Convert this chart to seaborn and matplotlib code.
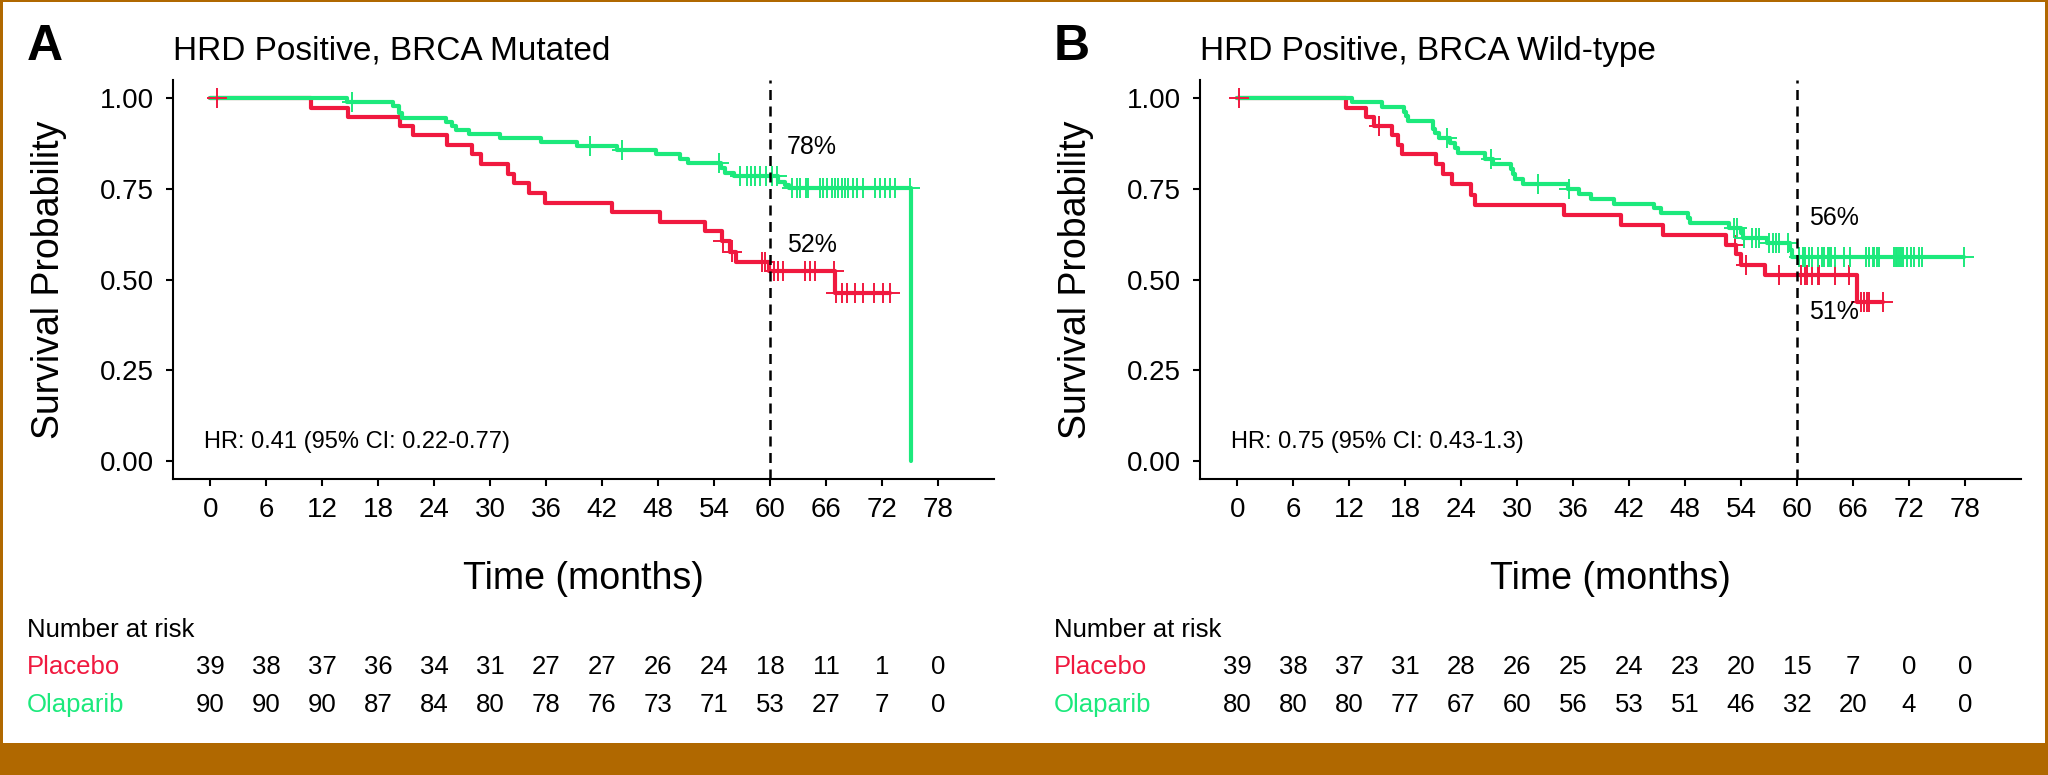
import matplotlib

matplotlib.use("Agg")
import matplotlib.pyplot as plt
import matplotlib.transforms as mtransforms
import numpy as np
import pandas as pd
import seaborn as sns
from matplotlib.patches import Rectangle

PLACEBO_COLOR = "#F0193F"
OLAPARIB_COLOR = "#1CE97C"
FRAME_COLOR = "#B06800"

TIME_TICKS = list(range(0, 79, 6))
SURV_TICKS = [0.0, 0.25, 0.5, 0.75, 1.0]

# Panel A: HRD positive, BRCA mutated
A_PBO_T = [10.8, 14.8, 20.3, 21.7, 25.4, 28.0, 29.0, 31.9, 32.6, 34.2, 35.9, 43.1, 48.2, 53.0,
           54.8, 55.7, 56.3, 59.9, 67.0]
A_PBO_S = [0.974, 0.949, 0.923, 0.897, 0.871, 0.845, 0.819, 0.791, 0.765, 0.738, 0.711, 0.686,
           0.659, 0.633, 0.605, 0.577, 0.549, 0.524, 0.462]
A_PBO_CENSOR = [0.7, 55.0, 55.9, 59.1, 59.5, 60.4, 60.9, 61.4, 63.7, 64.3, 64.8, 66.8, 67.1, 67.7,
                68.2, 69.1, 70.0, 71.1, 72.1, 72.9]
A_PBO_END = 72.9

A_OLA_T = [14.6, 19.6, 20.2, 20.5, 25.3, 25.9, 26.3, 27.7, 31.1, 35.4, 39.3, 43.6, 47.8, 50.3,
           51.2, 54.7, 55.2, 56.1, 60.9, 61.6, 62.0, 75.1]
A_OLA_S = [0.989, 0.978, 0.958, 0.946, 0.934, 0.922, 0.911, 0.900, 0.889, 0.878, 0.867, 0.856,
           0.845, 0.833, 0.821, 0.807, 0.793, 0.784, 0.770, 0.761, 0.752, 0.0]
A_OLA_CENSOR = [15.2, 40.7, 44.1, 54.5, 56.8, 57.5, 58.0, 58.4, 58.9, 59.6, 60.2, 60.7, 62.3, 62.9,
                63.2, 63.8, 64.1, 65.4, 65.7, 66.1, 66.6, 67.0, 67.3, 67.7, 68.0, 68.4, 68.9, 69.3,
                70.0, 71.2, 71.8, 72.3, 72.9, 73.4, 75.0]
A_OLA_END = 75.1

A_RISK_PBO = [39, 38, 37, 36, 34, 31, 27, 27, 26, 24, 18, 11, 1, 0]
A_RISK_OLA = [90, 90, 90, 87, 84, 80, 78, 76, 73, 71, 53, 27, 7, 0]

# Panel B: HRD positive, BRCA wild-type
B_PBO_T = [11.6, 13.8, 14.7, 16.6, 17.2, 17.7, 21.3, 22.0, 23.0, 25.0, 25.5, 35.0, 41.1, 45.6,
           52.4, 53.5, 54.0, 56.6, 66.4]
B_PBO_S = [0.974, 0.949, 0.923, 0.897, 0.871, 0.845, 0.818, 0.790, 0.762, 0.734, 0.706, 0.678,
           0.651, 0.623, 0.596, 0.570, 0.541, 0.512, 0.439]
B_PBO_CENSOR = [0.2, 15.2, 53.3, 54.5, 58.1, 60.4, 60.8, 61.1, 61.6, 62.2, 62.4, 64.1, 65.6, 66.8,
                67.2, 67.5, 67.7, 69.2]
B_PBO_END = 69.2

B_OLA_T = [12.3, 15.5, 17.9, 18.1, 18.3, 21.0, 21.2, 21.6, 22.8, 23.3, 23.7, 26.6, 27.4, 29.3,
           29.5, 29.8, 30.6, 35.4, 36.6, 37.9, 40.4, 44.7, 45.4, 48.3, 48.5, 52.7, 54.0, 54.2,
           56.8, 59.2, 59.5]
B_OLA_S = [0.988, 0.975, 0.963, 0.951, 0.938, 0.915, 0.903, 0.890, 0.876, 0.862, 0.848, 0.832,
           0.818, 0.804, 0.790, 0.776, 0.763, 0.749, 0.736, 0.722, 0.709, 0.696, 0.683, 0.669,
           0.656, 0.642, 0.628, 0.614, 0.600, 0.580, 0.563]
B_OLA_CENSOR = [22.5, 27.2, 32.2, 35.5, 53.2, 53.6, 54.3, 55.2, 55.6, 55.9, 57.0, 57.4, 57.7, 58.1,
                59.0, 60.2, 60.6, 60.9, 61.3, 61.6, 62.2, 62.7, 62.9, 63.3, 63.4, 63.6, 64.1, 65.0,
                65.7, 67.4, 67.7, 68.1, 68.2, 68.6, 68.8, 70.4, 70.6, 70.7, 70.9, 71.1, 71.3, 71.8,
                72.2, 72.5, 73.1, 73.4, 77.9]
B_OLA_END = 77.9

B_RISK_PBO = [39, 38, 37, 31, 28, 26, 25, 24, 23, 20, 15, 7, 0, 0]
B_RISK_OLA = [80, 80, 80, 77, 67, 60, 56, 53, 51, 46, 32, 20, 4, 0]

W, H = 2048, 775


def _steps(event_t, surv, end):
    t = [0.0, *event_t]
    s = [1.0, *surv]
    if end > t[-1]:
        t.append(end)
        s.append(s[-1])
    return pd.DataFrame({"time": t, "surv": s})


def _censors(event_t, surv, censor_t):
    levels = np.concatenate([[1.0], surv])
    idx = np.searchsorted(event_t, censor_t, side="right")
    return pd.DataFrame({"time": censor_t, "surv": levels[idx]})


def _panel(fig, left_px, letter, title, curves, hr_text, pct_labels, risk_pbo, risk_ola):
    ax = fig.add_axes([left_px / W, (H - 479) / H, 821 / W, 399 / H])
    for event_t, surv, end, _, color in curves:
        sns.lineplot(data=_steps(event_t, surv, end), x="time", y="surv", ax=ax, color=color,
                     linewidth=3.0, drawstyle="steps-post", estimator=None, sort=False)
    for event_t, surv, _, censor_t, color in curves:
        sns.scatterplot(data=_censors(event_t, surv, censor_t), x="time", y="surv", ax=ax,
                        marker="+", s=200, color=color, linewidth=1.4, zorder=3)
    ax.axvline(60, color="black", linewidth=1.8, dashes=(4.0, 2.6), zorder=4)

    ax.set_xlim(-4, 84)
    ax.set_ylim(-0.05, 1.05)
    ax.set_xticks(TIME_TICKS)
    ax.set_yticks(SURV_TICKS)
    ax.set_yticklabels([f"{v:.2f}" for v in SURV_TICKS])
    ax.tick_params(axis="both", direction="out", length=4.8, width=1.5, labelsize=20,
                   color="black", labelcolor="black")
    ax.tick_params(axis="x", pad=8)
    ax.tick_params(axis="y", pad=9)
    sns.despine(ax=ax)
    for side in ("left", "bottom"):
        ax.spines[side].set_linewidth(1.5)
        ax.spines[side].set_color("black")
    ax.set_xlabel("Time (months)", fontsize=27, color="black")
    ax.set_ylabel("Survival Probability", fontsize=27, color="black")
    ax.xaxis.set_label_coords(0.5, -0.205)
    ax.yaxis.set_label_coords(-0.129, 0.5)

    ax.text(-0.7, 0.052, hr_text, fontsize=17, ha="left", va="center")
    for label, x, y in pct_labels:
        ax.text(x, y, label, fontsize=18, ha="center", va="center")

    fig.text((left_px - 146) / W, (H - 60) / H, letter, fontsize=36, fontweight="bold",
             ha="left", va="baseline")
    fig.text(left_px / W, (H - 60) / H, title, fontsize=24, ha="left", va="baseline")

    lab_x = (left_px - 146) / W
    fig.text(lab_x, (H - 637) / H, "Number at risk", fontsize=18.5, ha="left", va="baseline")
    fig.text(lab_x, (H - 674) / H, "Placebo", fontsize=18.5, color=PLACEBO_COLOR,
             ha="left", va="baseline")
    fig.text(lab_x, (H - 712) / H, "Olaparib", fontsize=18.5, color=OLAPARIB_COLOR,
             ha="left", va="baseline")
    trans = mtransforms.blended_transform_factory(ax.transData, fig.transFigure)
    for t, n_pbo, n_ola in zip(TIME_TICKS, risk_pbo, risk_ola):
        ax.text(t, (H - 674) / H, str(n_pbo), transform=trans, fontsize=18.5,
                ha="center", va="baseline", clip_on=False)
        ax.text(t, (H - 712) / H, str(n_ola), transform=trans, fontsize=18.5,
                ha="center", va="baseline", clip_on=False)
    return ax


def main():
    sns.set_style("ticks")
    plt.rcParams["font.family"] = ["Liberation Sans", "DejaVu Sans"]
    plt.rcParams["text.color"] = "black"
    plt.rcParams["axes.labelcolor"] = "black"
    fig = plt.figure(figsize=(W / 100, H / 100), dpi=100)
    fig.patch.set_facecolor("white")

    _panel(
        fig, 173, "A", "HRD Positive, BRCA Mutated",
        [(A_PBO_T, A_PBO_S, A_PBO_END, A_PBO_CENSOR, PLACEBO_COLOR),
         (A_OLA_T, A_OLA_S, A_OLA_END, A_OLA_CENSOR, OLAPARIB_COLOR)],
        "HR: 0.41 (95% CI: 0.22-0.77)",
        [("78%", 64.5, 0.864), ("52%", 64.5, 0.596)],
        A_RISK_PBO, A_RISK_OLA,
    )
    _panel(
        fig, 1200, "B", "HRD Positive, BRCA Wild-type",
        [(B_PBO_T, B_PBO_S, B_PBO_END, B_PBO_CENSOR, PLACEBO_COLOR),
         (B_OLA_T, B_OLA_S, B_OLA_END, B_OLA_CENSOR, OLAPARIB_COLOR)],
        "HR: 0.75 (95% CI: 0.43-1.3)",
        [("56%", 64.0, 0.670), ("51%", 64.0, 0.411)],
        B_RISK_PBO, B_RISK_OLA,
    )

    # orange-brown frame and bottom band
    for x, y, w, h in [(0, 0, 1, 32 / H), (0, 0, 3 / W, 1), (1 - 3 / W, 0, 3 / W, 1),
                       (0, 1 - 2 / H, 1, 2 / H)]:
        fig.add_artist(Rectangle((x, y), w, h, transform=fig.transFigure,
                                 facecolor=FRAME_COLOR, edgecolor="none", zorder=10))

    fig.savefig("out.png", dpi=100)
    plt.close(fig)


if __name__ == "__main__":
    main()
